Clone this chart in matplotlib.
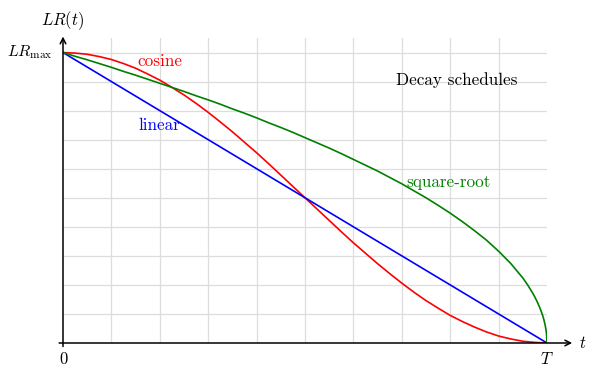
import matplotlib.pyplot as plt
import numpy as np

plt.rcParams['font.family'] = ['cmr10', 'DejaVu Serif']
plt.rcParams['mathtext.fontset'] = 'cm'
plt.rcParams['axes.formatter.use_mathtext'] = True

# values (fraction of T, fraction of LR_max)
t_linear = [0.0, 1.0]
lr_linear = [1.0, 0.0]

t_cosine = [0.0, 0.025, 0.05, 0.075, 0.1, 0.125, 0.15, 0.175, 0.2, 0.225,
            0.25, 0.275, 0.3, 0.325, 0.35, 0.375, 0.4, 0.425, 0.45, 0.475,
            0.5, 0.525, 0.55, 0.575, 0.6, 0.625, 0.65, 0.675, 0.7, 0.725,
            0.75, 0.775, 0.8, 0.825, 0.85, 0.875, 0.9, 0.925, 0.95, 0.975, 1.0]
lr_cosine = [1.0, 0.998, 0.994, 0.986, 0.976, 0.962, 0.946, 0.926, 0.905, 0.880,
             0.854, 0.825, 0.794, 0.761, 0.727, 0.691, 0.655, 0.617, 0.578, 0.539,
             0.5, 0.461, 0.422, 0.383, 0.345, 0.309, 0.273, 0.239, 0.206, 0.175,
             0.146, 0.120, 0.095, 0.074, 0.055, 0.038, 0.024, 0.014, 0.006, 0.002, 0.0]

t_sqrt = [0.0, 0.025, 0.05, 0.075, 0.1, 0.125, 0.15, 0.175, 0.2, 0.225,
          0.25, 0.275, 0.3, 0.325, 0.35, 0.375, 0.4, 0.425, 0.45, 0.475,
          0.5, 0.525, 0.55, 0.575, 0.6, 0.625, 0.65, 0.675, 0.7, 0.725,
          0.75, 0.775, 0.8, 0.825, 0.85, 0.875, 0.9, 0.925, 0.95, 0.96,
          0.97, 0.975, 0.98, 0.985, 0.99, 0.993, 0.996, 0.998, 0.999, 1.0]
lr_sqrt = [1.0, 0.987, 0.975, 0.962, 0.949, 0.935, 0.922, 0.908, 0.894, 0.880,
           0.866, 0.851, 0.837, 0.822, 0.806, 0.791, 0.775, 0.758, 0.742, 0.725,
           0.707, 0.689, 0.671, 0.652, 0.632, 0.612, 0.592, 0.570, 0.548, 0.524,
           0.5, 0.474, 0.447, 0.418, 0.387, 0.354, 0.316, 0.274, 0.224, 0.2,
           0.173, 0.158, 0.141, 0.122, 0.1, 0.084, 0.063, 0.045, 0.032, 0.0]

x_ticks = [0, 1]
x_tick_labels = ['0', '$T$']

fig = plt.figure(figsize=(5.94, 3.73), dpi=100)
ax = fig.add_axes([63 / 594, 30 / 373, 484 / 594, 305 / 373])

ax.plot(t_cosine, lr_cosine, color='#ff0000', lw=1.2)
ax.plot(t_linear, lr_linear, color='#0000ff', lw=1.2)
ax.plot(t_sqrt, lr_sqrt, color='#008000', lw=1.2)

ax.set_xlim(0, 1)
ax.set_ylim(0, 1.05)
ax.set_xticks(np.arange(0, 1.01, 0.1), minor=True)
ax.set_yticks(np.arange(0, 1.01, 0.1), minor=True)
ax.grid(True, which='minor', color='#dddddd', lw=0.9)
ax.set_axisbelow(True)
ax.set_xticks(x_ticks, x_tick_labels, fontsize=12)
ax.set_yticks([])
ax.tick_params(which='both', length=0)
ax.tick_params(axis='x', pad=6)

for s in ['top', 'right', 'left', 'bottom']:
    ax.spines[s].set_visible(False)

# axes with arrows, starting a little past the origin
ax.annotate('', xy=(1.052, 0), xytext=(-0.008, 0), xycoords='data',
            arrowprops=dict(arrowstyle='->', color='black', lw=1.1, shrinkA=0, shrinkB=0),
            annotation_clip=False)
ax.annotate('', xy=(0, 1.055), xytext=(0, -0.012),
            arrowprops=dict(arrowstyle='->', color='black', lw=1.1, shrinkA=0, shrinkB=0),
            annotation_clip=False)

ax.text(1.066, 0, '$t$', fontsize=12, ha='left', va='center')
ax.text(0.0, 1.11, '$LR(t)$', fontsize=12, ha='center', va='center')
ax.text(-0.022, 1.0, r'$LR_{\max}$', fontsize=11.5, ha='right', va='center')

ax.text(0.2, 0.968, 'cosine', color='#ff0000', fontsize=12.3, ha='center', va='center')
ax.text(0.2, 0.748, 'linear', color='#0000ff', fontsize=12.3, ha='center', va='center')
ax.text(0.797, 0.552, 'square-root', color='#008000', fontsize=12.3, ha='center', va='center')
ax.text(0.814, 0.905, 'Decay schedules', fontsize=12.3, ha='center', va='center')

fig.savefig('out.png', dpi=100)
